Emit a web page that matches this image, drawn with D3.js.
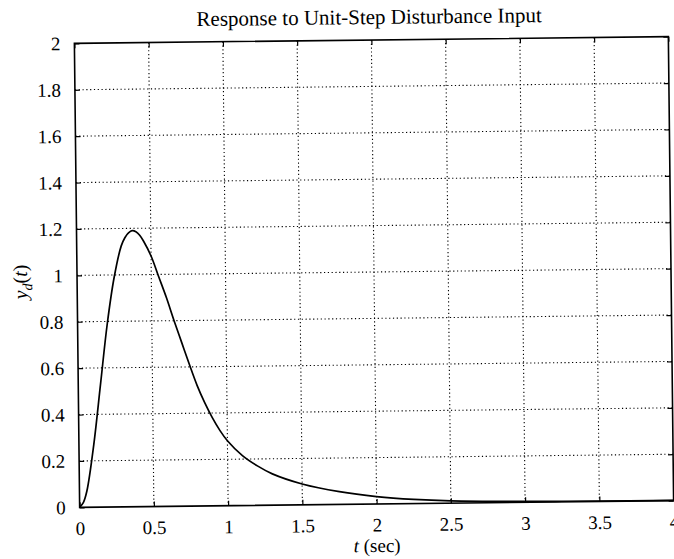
<!DOCTYPE html>
<html>
<head>
<meta charset="utf-8">
<script src="https://cdn.jsdelivr.net/npm/d3@7"></script>
<style>
  body { margin: 0; background: #fff; }
  text { font-family: "Liberation Serif", "Times New Roman", serif; fill: #000; }
</style>
</head>
<body>
<div id="chart"></div>
<script>
// values
var tValues = [0, 0.025, 0.05, 0.1, 0.15, 0.2, 0.25, 0.3, 0.325, 0.35, 0.375, 0.4, 0.425, 0.45, 0.5, 0.55, 0.6, 0.65, 0.7, 0.75, 0.8, 0.85, 0.9, 0.95, 1.0, 1.1, 1.2, 1.3, 1.5, 1.75, 2.0, 2.25, 2.5, 3.0, 3.5, 4.0];
var yValues = [0, 0.02, 0.07, 0.27, 0.53, 0.79, 0.99, 1.125, 1.16, 1.181, 1.19, 1.185, 1.17, 1.145, 1.08, 0.99, 0.9, 0.8, 0.705, 0.61, 0.52, 0.445, 0.38, 0.325, 0.28, 0.215, 0.17, 0.135, 0.09, 0.055, 0.032, 0.018, 0.01, 0.004, 0.002, 0.001];
var xTicks = [0, 0.5, 1, 1.5, 2, 2.5, 3, 3.5, 4];
var yTicks = [0, 0.2, 0.4, 0.6, 0.8, 1, 1.2, 1.4, 1.6, 1.8, 2];
var xTickLabels = ["0", "0.5", "1", "1.5", "2", "2.5", "3", "3.5", "4"];
var yTickLabels = ["0", "0.2", "0.4", "0.6", "0.8", "1", "1.2", "1.4", "1.6", "1.8", "2"];
var chartTitle = "Response to Unit-Step Disturbance Input";

var W = 674, H = 559;
var plotLeft = 77, plotTop = 40, plotW = 594, plotH = 464;

var svg = d3.select("#chart").append("svg")
  .attr("width", W)
  .attr("height", H);

// the scan is tilted a little, so tilt everything the same way
var page = svg.append("g")
  .attr("transform", "rotate(-0.65," + (plotLeft + plotW / 2) + "," + (plotTop + plotH / 2) + ")");

var x = d3.scaleLinear().domain([0, 4]).range([plotLeft, plotLeft + plotW]);
var y = d3.scaleLinear().domain([0, 2]).range([plotTop + plotH, plotTop]);

// dotted grid
page.append("g").selectAll("line")
  .data(xTicks.slice(1, -1))
  .enter().append("line")
  .attr("x1", function(d){ return x(d); })
  .attr("x2", function(d){ return x(d); })
  .attr("y1", plotTop)
  .attr("y2", plotTop + plotH)
  .style("stroke", "#000")
  .style("stroke-width", 1.1)
  .style("stroke-dasharray", "1.2,2.6");

page.append("g").selectAll("line")
  .data(yTicks.slice(1, -1))
  .enter().append("line")
  .attr("x1", plotLeft)
  .attr("x2", plotLeft + plotW)
  .attr("y1", function(d){ return y(d); })
  .attr("y2", function(d){ return y(d); })
  .style("stroke", "#000")
  .style("stroke-width", 1.1)
  .style("stroke-dasharray", "1.2,2.6");

// axes with inward ticks on all four sides
var axisB = d3.axisBottom(x).tickValues(xTicks).tickSizeInner(-5).tickSizeOuter(0)
  .tickFormat(function(d, i){ return xTickLabels[i]; }).tickPadding(14);
var axisT = d3.axisTop(x).tickValues(xTicks).tickSizeInner(-5).tickSizeOuter(0).tickFormat("");
var axisL = d3.axisLeft(y).tickValues(yTicks).tickSizeInner(-5).tickSizeOuter(0)
  .tickFormat(function(d, i){ return yTickLabels[i]; }).tickPadding(14);
var axisR = d3.axisRight(y).tickValues(yTicks).tickSizeInner(-5).tickSizeOuter(0).tickFormat("");

var gB = page.append("g").attr("transform", "translate(0," + (plotTop + plotH) + ")").call(axisB);
var gT = page.append("g").attr("transform", "translate(0," + plotTop + ")").call(axisT);
var gL = page.append("g").attr("transform", "translate(" + plotLeft + ",0)").call(axisL);
var gR = page.append("g").attr("transform", "translate(" + (plotLeft + plotW) + ",0)").call(axisR);

[gB, gT, gL, gR].forEach(function(g){
  g.select(".domain").remove();
  g.selectAll(".tick line").style("stroke", "#000").style("stroke-width", 1.2);
  g.selectAll("text")
    .style("font-family", "'Liberation Serif', 'Times New Roman', serif")
    .style("font-size", "19px")
    .style("fill", "#000");
});

// plot box
page.append("rect")
  .attr("x", plotLeft)
  .attr("y", plotTop)
  .attr("width", plotW)
  .attr("height", plotH)
  .style("fill", "none")
  .style("stroke", "#000")
  .style("stroke-width", 1.6);

// response curve
var points = tValues.map(function(t, i){ return [t, yValues[i]]; });
var line = d3.line()
  .x(function(d){ return x(d[0]); })
  .y(function(d){ return y(d[1]); })
  .curve(d3.curveCatmullRom.alpha(0.5));

page.append("path")
  .datum(points)
  .attr("d", line)
  .style("fill", "none")
  .style("stroke", "#000")
  .style("stroke-width", 1.7);

// title
page.append("text")
  .attr("x", 372)
  .attr("y", 24)
  .attr("text-anchor", "middle")
  .style("font-size", "21px")
  .text(chartTitle);

// x label: t (sec)
var xl = page.append("text")
  .attr("x", plotLeft + plotW / 2)
  .attr("y", 552)
  .attr("text-anchor", "middle")
  .style("font-size", "19px");
xl.append("tspan").style("font-style", "italic").text("t");
xl.append("tspan").text(" (sec)");

// y label: y_d(t)
var yl = page.append("text")
  .attr("transform", "translate(27," + (plotTop + plotH / 2 + 6) + ") rotate(-90)")
  .attr("text-anchor", "middle")
  .style("font-size", "20px");
yl.append("tspan").style("font-style", "italic").text("y");
yl.append("tspan").style("font-style", "italic").style("font-size", "14px").attr("dy", 5).text("d");
yl.append("tspan").attr("dy", -5).text("(");
yl.append("tspan").style("font-style", "italic").text("t");
yl.append("tspan").text(")");
</script>
</body>
</html>
